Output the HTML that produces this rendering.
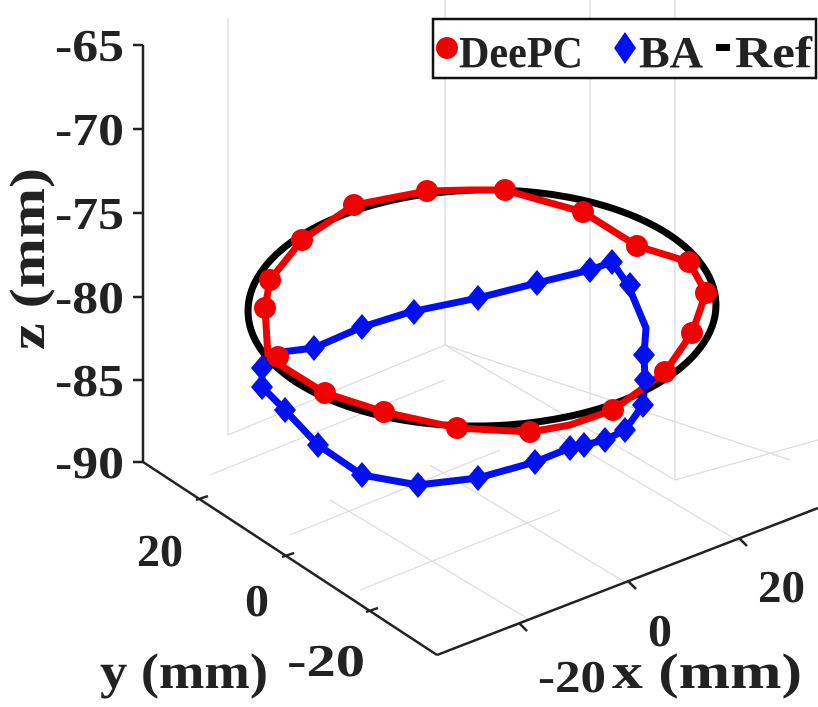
<!DOCTYPE html>
<html><head><meta charset="utf-8"><style>
html,body{margin:0;padding:0;background:#fff;}
svg{display:block;}
text{font-family:"Liberation Serif",serif;font-weight:bold;fill:#222;}
</style></head><body>
<svg width="818" height="707" viewBox="0 0 818 707" xmlns="http://www.w3.org/2000/svg">
<g stroke="#dcdcdc" stroke-width="1.2" fill="none">
<line x1="228" y1="18" x2="228" y2="435"/>
<line x1="445" y1="0" x2="445" y2="345"/>
<line x1="590" y1="0" x2="590" y2="400"/>
<line x1="675" y1="0" x2="675" y2="480"/>
<polyline points="228,435 445,345 790,460"/>
<polyline points="445,345 675,480 818,440"/>
<line x1="210" y1="475" x2="445" y2="380"/>
<line x1="290" y1="535" x2="500" y2="450"/>
<line x1="360" y1="590" x2="560" y2="510"/>
<line x1="530" y1="620" x2="330" y2="500"/>
<line x1="630" y1="585" x2="430" y2="465"/>
<line x1="742" y1="543" x2="545" y2="427"/>
</g>
<g stroke="#222" stroke-width="2.5" fill="none">
<line x1="143" y1="45" x2="143" y2="462"/>
<line x1="143" y1="462" x2="437" y2="655"/>
<line x1="437" y1="655" x2="818" y2="508"/>
<line x1="133" y1="45" x2="143" y2="45"/>
<line x1="133" y1="129" x2="143" y2="129"/>
<line x1="133" y1="213" x2="143" y2="213"/>
<line x1="133" y1="297" x2="143" y2="297"/>
<line x1="133" y1="380" x2="143" y2="380"/>
<line x1="133" y1="462" x2="143" y2="462"/>
<line x1="196" y1="500" x2="208" y2="496"/>
<line x1="282" y1="557" x2="294" y2="553"/>
<line x1="366" y1="612" x2="378" y2="608"/>
<line x1="519" y1="623" x2="527" y2="631"/>
<line x1="628" y1="581" x2="636" y2="589"/>
<line x1="739" y1="538" x2="747" y2="546"/>
</g>
<g font-size="46">
<text x="55" y="61" textLength="69" lengthAdjust="spacingAndGlyphs">-65</text>
<text x="55" y="145" textLength="69" lengthAdjust="spacingAndGlyphs">-70</text>
<text x="55" y="229" textLength="69" lengthAdjust="spacingAndGlyphs">-75</text>
<text x="55" y="313" textLength="69" lengthAdjust="spacingAndGlyphs">-80</text>
<text x="55" y="396" textLength="69" lengthAdjust="spacingAndGlyphs">-85</text>
<text x="55" y="478" textLength="69" lengthAdjust="spacingAndGlyphs">-90</text>
<text x="137" y="566" textLength="46" lengthAdjust="spacingAndGlyphs">20</text>
<text x="245" y="616" textLength="24" lengthAdjust="spacingAndGlyphs">0</text>
<text x="287" y="676" textLength="78" lengthAdjust="spacingAndGlyphs">-20</text>
<text x="538" y="692" textLength="68" lengthAdjust="spacingAndGlyphs">-20</text>
<text x="648" y="646" textLength="24" lengthAdjust="spacingAndGlyphs">0</text>
<text x="758" y="602" textLength="47" lengthAdjust="spacingAndGlyphs">20</text>
</g>
<text font-size="50" x="100" y="688" textLength="168" lengthAdjust="spacingAndGlyphs">y (mm)</text>
<text font-size="50" x="612" y="688" textLength="190" lengthAdjust="spacingAndGlyphs">x (mm)</text>
<text font-size="50" transform="translate(44,350) rotate(-90)" textLength="182" lengthAdjust="spacingAndGlyphs">z (mm)</text>
<polyline fill="none" stroke="#0010f0" stroke-width="7" stroke-linejoin="round" points="262,368 262,387 285,410 318,445 362,475 418,485 478,478 535,462 570,448 584,445 605,440 625,430 643,405 645,380 644,355 646,328 628,285 612,262 590,270 537,283 478,298 410,312 362,327 314,348 282,352"/>
<ellipse cx="482" cy="308" rx="234" ry="118" fill="none" stroke="#000" stroke-width="7" transform="rotate(-1 482 308)"/>
<polyline fill="none" stroke="#f00000" stroke-width="7" stroke-linejoin="round" points="268,357 265,308 270,280 302,240 354,205 427,191 470,190 505,190 540,200 583,212 637,246 689,262 706,293 692,333 665,372 613,410 570,425 530,432 457,428 384,412 325,393 280,365 268,357"/>
<g fill="#f00000">
<circle cx="354" cy="205" r="11"/><circle cx="427" cy="191" r="11"/><circle cx="505" cy="190" r="11"/>
<circle cx="583" cy="212" r="11"/><circle cx="637" cy="246" r="11"/><circle cx="689" cy="262" r="11"/>
<circle cx="706" cy="293" r="11"/><circle cx="692" cy="333" r="11"/><circle cx="665" cy="372" r="11"/>
<circle cx="613" cy="410" r="11"/><circle cx="530" cy="432" r="11"/><circle cx="457" cy="428" r="11"/>
<circle cx="384" cy="412" r="11"/><circle cx="325" cy="393" r="11"/><circle cx="278" cy="357" r="11"/>
<circle cx="265" cy="308" r="11"/><circle cx="270" cy="280" r="11"/><circle cx="302" cy="240" r="11"/>
</g>
<g fill="#0010f0">
<path d="M262,355 l11,13 l-11,13 l-11,-13z"/>
<path d="M262,374 l11,13 l-11,13 l-11,-13z"/>
<path d="M285,397 l11,13 l-11,13 l-11,-13z"/>
<path d="M318,432 l11,13 l-11,13 l-11,-13z"/>
<path d="M362,462 l11,13 l-11,13 l-11,-13z"/>
<path d="M418,472 l11,13 l-11,13 l-11,-13z"/>
<path d="M478,465 l11,13 l-11,13 l-11,-13z"/>
<path d="M535,449 l11,13 l-11,13 l-11,-13z"/>
<path d="M570,435 l11,13 l-11,13 l-11,-13z"/>
<path d="M584,432 l11,13 l-11,13 l-11,-13z"/>
<path d="M605,427 l11,13 l-11,13 l-11,-13z"/>
<path d="M625,417 l11,13 l-11,13 l-11,-13z"/>
<path d="M643,392 l11,13 l-11,13 l-11,-13z"/>
<path d="M645,367 l11,13 l-11,13 l-11,-13z"/>
<path d="M644,342 l11,13 l-11,13 l-11,-13z"/>
<path d="M630,272 l11,13 l-11,13 l-11,-13z"/>
<path d="M612,249 l11,13 l-11,13 l-11,-13z"/>
<path d="M590,257 l11,13 l-11,13 l-11,-13z"/>
<path d="M537,270 l11,13 l-11,13 l-11,-13z"/>
<path d="M478,285 l11,13 l-11,13 l-11,-13z"/>
<path d="M414,299 l11,13 l-11,13 l-11,-13z"/>
<path d="M362,314 l11,13 l-11,13 l-11,-13z"/>
<path d="M314,335 l11,13 l-11,13 l-11,-13z"/>
</g>
<rect x="433" y="19" width="383" height="59" fill="#fff" stroke="#111" stroke-width="2.5"/>
<circle cx="447" cy="48" r="11" fill="#f00000"/>
<text x="459" y="67" font-size="44" fill="#111" textLength="124" lengthAdjust="spacingAndGlyphs">DeePC</text>
<path d="M625,32 l11,16 l-11,16 l-11,-16z" fill="#0010f0"/>
<text x="639" y="67" font-size="44" fill="#111" textLength="64" lengthAdjust="spacingAndGlyphs">BA</text>
<rect x="716" y="44" width="14" height="7" fill="#000"/>
<text x="735" y="67" font-size="44" fill="#111" textLength="77" lengthAdjust="spacingAndGlyphs">Ref</text>
</svg>
</body></html>
